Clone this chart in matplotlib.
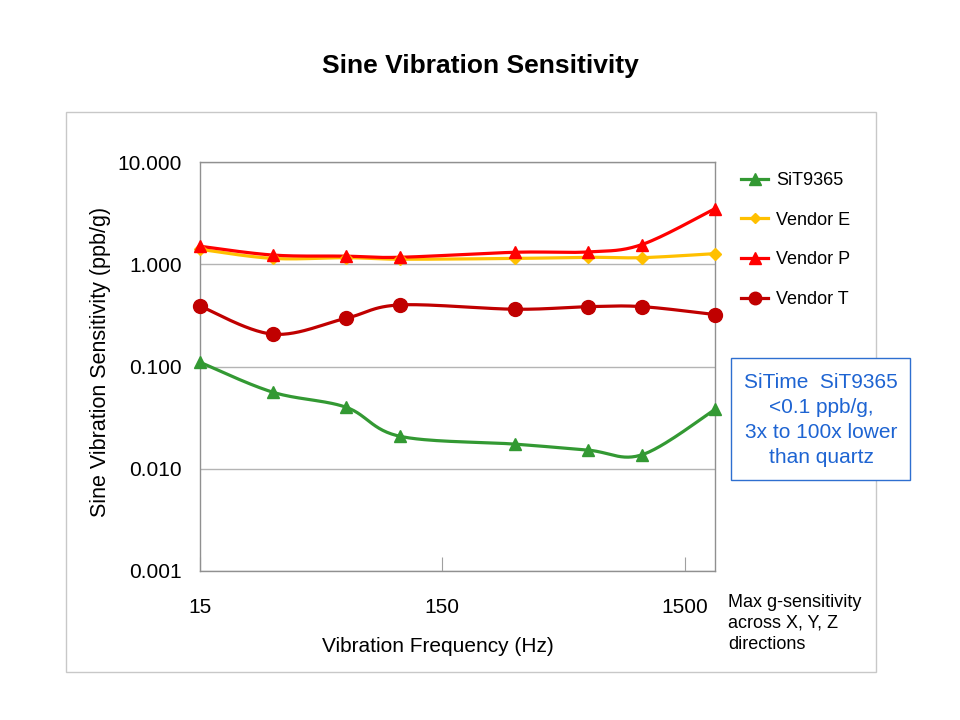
import numpy as np
import matplotlib
matplotlib.use("Agg")
import matplotlib.pyplot as plt
from matplotlib.patches import Rectangle

plt.rcParams['font.family'] = ['Liberation Sans', 'DejaVu Sans']

freq = [15, 30, 60, 100, 300, 600, 1000, 2000]
sit9365 = [0.110, 0.056, 0.040, 0.0208, 0.0174, 0.0152, 0.0137, 0.038]
vendor_e = [1.40, 1.14, 1.16, 1.12, 1.14, 1.17, 1.16, 1.27]
vendor_p = [1.50, 1.23, 1.20, 1.17, 1.31, 1.32, 1.56, 3.50]
vendor_t = [0.39, 0.207, 0.296, 0.400, 0.363, 0.385, 0.385, 0.322]

series_names = ["SiT9365", "Vendor E", "Vendor P", "Vendor T"]
x_ticks = [15, 150, 1500]
y_ticks = [0.001, 0.01, 0.1, 1, 10]


def smooth(xs, ys, n=30):
    # Catmull-Rom curve through the points in log-log space (Excel-style smoothing)
    lx = np.log10(np.asarray(xs, float))
    ly = np.log10(np.asarray(ys, float))
    px = np.concatenate([[lx[0]], lx, [lx[-1]]])
    py = np.concatenate([[ly[0]], ly, [ly[-1]]])
    ox, oy = [], []
    for i in range(1, len(px) - 2):
        p0x, p1x, p2x, p3x = px[i - 1], px[i], px[i + 1], px[i + 2]
        p0y, p1y, p2y, p3y = py[i - 1], py[i], py[i + 1], py[i + 2]
        c1x, c1y = p1x + (p2x - p0x) / 6, p1y + (p2y - p0y) / 6
        c2x, c2y = p2x - (p3x - p1x) / 6, p2y - (p3y - p1y) / 6
        t = np.linspace(0, 1, n)
        bx = (1 - t) ** 3 * p1x + 3 * (1 - t) ** 2 * t * c1x + 3 * (1 - t) * t ** 2 * c2x + t ** 3 * p2x
        by = (1 - t) ** 3 * p1y + 3 * (1 - t) ** 2 * t * c1y + 3 * (1 - t) * t ** 2 * c2y + t ** 3 * p2y
        ox.extend(bx)
        oy.extend(by)
    return 10 ** np.array(ox), 10 ** np.array(oy)


fig = plt.figure(figsize=(9.6, 7.2), dpi=100)
fig.patches.append(Rectangle((66 / 960, 1 - 672 / 720), (876 - 66) / 960, (672 - 112) / 720,
                             transform=fig.transFigure, fill=False, edgecolor='#C8C8C8', lw=1.0))

ax = fig.add_axes([200 / 960, 1 - 571 / 720, 515 / 960, 409 / 720])
ax.set_xscale('log')
ax.set_yscale('log')
ax.set_xlim(15, 2000)
ax.set_ylim(0.001, 10)

styles = [
    (sit9365, '#339933', '^', 9),
    (vendor_e, '#FFC000', 'D', 6),
    (vendor_p, '#FF0000', '^', 9),
    (vendor_t, '#C00000', 'o', 10),
]
handles = []
for (vals, col, mk, ms), name in zip(styles, series_names):
    sx, sy = smooth(freq, vals)
    ax.plot(sx, sy, color=col, lw=2.3, clip_on=False, zorder=3)
    ax.plot(freq, vals, linestyle='none', marker=mk, color=col, ms=ms, clip_on=False, zorder=4)
    h, = ax.plot([], [], color=col, lw=2.3, marker=mk, ms=ms * 0.9)
    handles.append(h)

ax.set_yticks(y_ticks)
ax.set_yticklabels(["%.3f" % v for v in y_ticks])
ax.set_xticks(x_ticks)
ax.set_xticklabels([str(v) for v in x_ticks])
ax.xaxis.set_minor_locator(matplotlib.ticker.NullLocator())
ax.yaxis.set_minor_locator(matplotlib.ticker.NullLocator())
ax.tick_params(axis='y', length=0, pad=13, labelsize=15)
ax.tick_params(axis='x', direction='in', length=10, color='#A0A0A0', pad=19.5, labelsize=15)
ax.grid(axis='y', color='#B4B4B4', lw=1.0)
for s in ax.spines.values():
    s.set_color('#909090')
    s.set_linewidth(1.0)

ax.set_xlabel("Vibration Frequency (Hz)", fontsize=15)
ax.xaxis.set_label_coords((438 - 200) / 515, (571 - 637) / 409)
ax.set_ylabel("Sine Vibration Sensitivity (ppb/g)", fontsize=15.5)
ax.yaxis.set_label_coords((111 - 200) / 515, (571 - 362) / 409)

fig.text(0.5, 1 - 66 / 720, "Sine Vibration Sensitivity", ha='center', va='center',
         fontsize=19, fontweight='bold')

fig.legend(handles, series_names, loc='upper left', bbox_to_anchor=(734 / 960, 1 - 165 / 720),
           frameon=False, fontsize=13, labelspacing=1.25, handlelength=1.5, handletextpad=0.45,
           borderaxespad=0)

fig.patches.append(Rectangle((731 / 960, 1 - 480 / 720), (910 - 731) / 960, (480 - 358) / 720,
                             transform=fig.transFigure, facecolor='white', edgecolor='#2E6FD0', lw=1.0,
                             zorder=5))
fig.text(821 / 960, 1 - 420 / 720, "SiTime  SiT9365\n<0.1 ppb/g,\n3x to 100x lower\nthan quartz",
         ha='center', va='center', fontsize=15, color='#1E64D2', linespacing=1.41, zorder=6)

fig.text(728 / 960, 1 - 594 / 720, "Max g-sensitivity\nacross X, Y, Z\ndirections",
         ha='left', va='top', fontsize=13, linespacing=1.3)

fig.savefig("out.png", dpi=100)
